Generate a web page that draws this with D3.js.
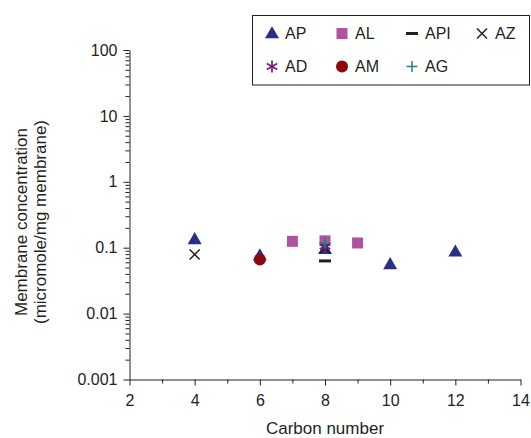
<!DOCTYPE html>
<html>
<head>
<meta charset="utf-8">
<script src="https://cdn.jsdelivr.net/npm/d3@7"></script>
<style>
  html, body { margin: 0; padding: 0; background: #fff; }
  svg { display: block; }
  text { font-family: "Liberation Sans", Arial, Helvetica, sans-serif; fill: #231f20; }
</style>
</head>
<body>
<svg id="chart" width="531" height="438"></svg>
<script>
// Series: carbon number of the alcohol chain vs membrane concentration
const seriesNames = ["AP", "AL", "API", "AZ", "AD", "AM", "AG"];
const apCarbon = [4, 6, 8, 10, 12];
const apValues = [0.134, 0.076, 0.095, 0.056, 0.087];
const alCarbon = [7, 8, 9];
const alValues = [0.125, 0.127, 0.118];
const apiCarbon = [8];
const apiValues = [0.063];
const azCarbon = [4, 8];
const azValues = [0.079, 0.098];
const adCarbon = [8];
const adValues = [0.106];
const amCarbon = [6];
const amValues = [0.066];
const agCarbon = [8];
const agValues = [0.117];

const xTicks = [2, 4, 6, 8, 10, 12, 14];
const xMinorTicks = [3, 5, 7, 9, 11, 13];
const yTicks = [0.001, 0.01, 0.1, 1, 10, 100];
const yTickLabels = ["0.001", "0.01", "0.1", "1", "10", "100"];

const svg = d3.select("#chart");
const x = d3.scaleLinear().domain([2, 14]).range([129.5, 520.5]);
const y = d3.scaleLog().domain([0.001, 100]).range([379.5, 50]);

// Minor log ticks: 2..9 within each decade
const yMinorTicks = [];
for (let e = -3; e < 2; e++) {
  for (let m = 2; m <= 9; m++) yMinorTicks.push(+(m * Math.pow(10, e)).toPrecision(3));
}

const axisColor = "#231f20";

// Minor ticks first (no labels)
svg.append("g")
  .attr("transform", `translate(0,${y(0.001)})`)
  .call(d3.axisBottom(x).tickValues(xMinorTicks).tickSize(4).tickSizeOuter(0).tickFormat(""))
  .call(g => g.select(".domain").remove());
svg.append("g")
  .attr("transform", `translate(${x(2)},0)`)
  .call(d3.axisLeft(y).tickValues(yMinorTicks).tickSize(4).tickSizeOuter(0).tickFormat(""))
  .call(g => g.select(".domain").remove());

// Major axes
svg.append("g")
  .attr("transform", `translate(0,${y(0.001)})`)
  .call(d3.axisBottom(x).tickValues(xTicks).tickSize(6).tickSizeOuter(0).tickPadding(9).tickFormat(d3.format("d")));
svg.append("g")
  .attr("transform", `translate(${x(2)},0)`)
  .call(d3.axisLeft(y).tickValues(yTicks).tickSize(6).tickSizeOuter(0).tickPadding(6)
    .tickFormat((d, i) => yTickLabels[i]));

svg.selectAll(".tick line, .domain").attr("stroke", axisColor).attr("stroke-width", 1);
svg.selectAll(".tick text").style("font-size", "16px").attr("fill", axisColor)
  .style("font-family", '"Liberation Sans", Arial, Helvetica, sans-serif');

// Axis titles
svg.append("text")
  .attr("x", 325).attr("y", 433.5)
  .attr("text-anchor", "middle")
  .style("font-size", "17px")
  .text("Carbon number");

const yTitle = svg.append("text")
  .attr("transform", "translate(0,222) rotate(-90)")
  .attr("text-anchor", "middle")
  .style("font-size", "17px");
yTitle.append("tspan").attr("x", 0).attr("y", 27).text("Membrane concentration");
yTitle.append("tspan").attr("x", 0).attr("y", 46).text("(micromole/mg membrane)");

// Marker shapes
const markerPath = {
  AP: s => { const h = s * Math.sqrt(3) / 2; return `M0,${-h * 0.6}L${s / 2},${h * 0.4}L${-s / 2},${h * 0.4}Z`; },
  AL: s => `M${-s / 2},${-s / 2}h${s}v${s}h${-s}Z`,
  API: s => `M${-s / 2},0H${s / 2}`,
  AZ: s => `M${-s / 2},${-s / 2}L${s / 2},${s / 2}M${-s / 2},${s / 2}L${s / 2},${-s / 2}`,
  AD: s => { const r = s / 2, t = r / 2, u = t * Math.sqrt(3); return `M0,${-r}V${r}M${-u},${-t}L${u},${t}M${-u},${t}L${u},${-t}`; },
  AM: s => d3.arc()({ innerRadius: 0, outerRadius: s / 2, startAngle: 0, endAngle: 2 * Math.PI }),
  AG: s => `M0,${-s / 2}V${s / 2}M${-s / 2},0H${s / 2}`
};
const style = {
  AP: { fill: "#2b2e86", stroke: "none", size: 14, sw: 0 },
  AL: { fill: "#b0529f", stroke: "none", size: 11, sw: 0 },
  API: { fill: "none", stroke: "#231f20", size: 12, sw: 3 },
  AZ: { fill: "none", stroke: "#231f20", size: 10, sw: 1.5 },
  AD: { fill: "none", stroke: "#7b1c72", size: 12, sw: 1.7 },
  AM: { fill: "#8b0a0f", stroke: "none", size: 12, sw: 0 },
  AG: { fill: "none", stroke: "#12888a", size: 11, sw: 1.5 }
};

const seriesData = {
  AP: d3.zip(apCarbon, apValues),
  AL: d3.zip(alCarbon, alValues),
  API: d3.zip(apiCarbon, apiValues),
  AZ: d3.zip(azCarbon, azValues),
  AD: d3.zip(adCarbon, adValues),
  AM: d3.zip(amCarbon, amValues),
  AG: d3.zip(agCarbon, agValues)
};

// Draw order: squares and triangles underneath, line markers on top
const drawOrder = ["AL", "AP", "AM", "API", "AZ", "AD", "AG"];
function drawMarker(sel, name) {
  const st = style[name];
  sel.attr("d", markerPath[name](st.size))
    .attr("fill", st.fill)
    .attr("stroke", st.stroke)
    .attr("stroke-width", st.sw);
}
drawOrder.forEach(name => {
  svg.append("g").selectAll("path")
    .data(seriesData[name])
    .join("path")
    .attr("transform", d => `translate(${x(d[0])},${y(d[1])})`)
    .call(drawMarker, name);
});

// Legend
const legend = svg.append("g");
legend.append("rect")
  .attr("x", 252.5).attr("y", 15.5).attr("width", 277).attr("height", 69.5)
  .attr("fill", "#fff").attr("stroke", axisColor).attr("stroke-width", 1);
const colX = [272, 342, 412, 482];
const rowY = [33.5, 66.5];
seriesNames.forEach((name, i) => {
  const cx = colX[i % 4], cy = rowY[Math.floor(i / 4)];
  legend.append("path")
    .attr("transform", `translate(${cx},${cy})`)
    .call(drawMarker, name);
  legend.append("text")
    .attr("x", cx + 13).attr("y", cy)
    .attr("dy", "0.36em")
    .style("font-size", "16px")
    .text(name);
});
</script>
</body>
</html>
